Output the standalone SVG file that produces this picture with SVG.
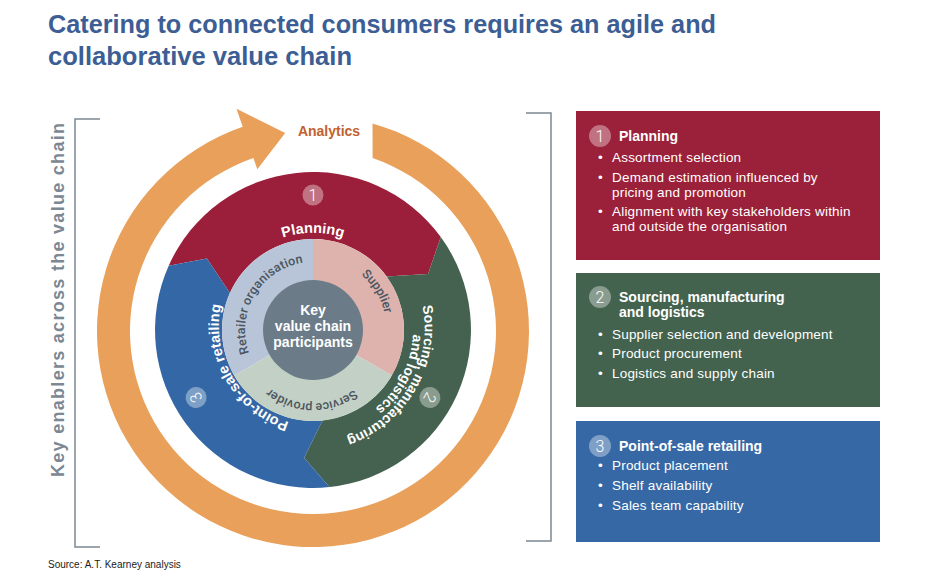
<svg xmlns="http://www.w3.org/2000/svg" width="931" height="576" viewBox="0 0 931 576">
  <style>
    text { font-family: "Liberation Sans", Arial, sans-serif; }
    .title { font-size: 25px; font-weight: 700; fill: #3c5e95; }
    .seg-label { font-size: 14.5px; font-weight: 700; fill: #ffffff; }
    .seg-label.small { font-size: 14px; }
    .part-label { font-family: Roboto, "Liberation Sans", sans-serif; font-size: 12.5px; font-weight: 500; fill: #4a5560; }
    .digit { font-family: Roboto, "Liberation Sans", sans-serif; font-size: 16px; font-weight: 300; fill: #ffffff; }
    .badge { fill: #ffffff; fill-opacity: 0.37; }
    .box-head { font-size: 14px; font-weight: 700; fill: #ffffff; }
    .box-text { font-size: 13.5px; fill: #ffffff; letter-spacing: 0.2px; }
    .bracket { fill: none; stroke: #7d8891; stroke-width: 1.5; }
  </style>
  <defs>
    <!-- clockwise baselines for the curved labels (centre 313,330) -->
    <path id="arc-planning" d="M221.8 296.8 A97 97 0 0 1 404.2 296.8"/>
    <path id="arc-sourcing1" d="M379 235.8 A116 116 0 0 1 264 435.1"/>
    <path id="arc-sourcing2" d="M366 245.2 A100 100 0 0 1 275.5 422.7"/>
    <path id="arc-pos" d="M355.3 420.6 A101 101 0 0 1 255.6 248.1"/>
    <path id="arc-retailer" d="M273.0 385.0 A68 68 0 0 1 342.8 268.9"/>
    <path id="arc-supplier" d="M283.2 268.9 A66 66 0 0 1 353.0 385.0"/>
    <path id="arc-service" d="M380.6 337.1 A64 64 0 0 1 245.2 334.7"/>
  </defs>

  <rect width="931" height="576" fill="#ffffff"/>

  <!-- heading -->
  <g id="title">
    <text class="title" x="48" y="33" textLength="668" lengthAdjust="spacingAndGlyphs">Catering to connected consumers requires an agile and</text>
    <text class="title" x="48" y="65" textLength="304" lengthAdjust="spacingAndGlyphs">collaborative value chain</text>
  </g>

  <!-- outer analytics loop with arrowhead -->
  <g id="analytics">
    <path d="M372.5 123.4 A216 216 0 1 1 242.7 126.8 L236.5 108.8 L285.2 132.9 L257.3 169.3 L253.4 158.0 A183 183 0 1 0 372.6 158.0 Z" fill="#e9a05a"/>
    <text x="329" y="136" text-anchor="middle" font-size="14" font-weight="700" fill="#c2612e">Analytics</text>
  </g>

  <!-- value chain stages -->
  <g id="stage-planning">
    <path d="M168.7 265.7 A158 158 0 0 1 440.8 237.1 L428.0 273.9 L386.6 276.5 A91 91 0 0 0 229.9 293.0 L206.9 258.4 Z" fill="#9b1f3a"/>
    <circle class="badge" cx="313" cy="195" r="10.5"/>
    <text class="digit" x="313" y="200.5" text-anchor="middle">1</text>
    <text class="seg-label"><textPath href="#arc-planning" startOffset="50%" text-anchor="middle">Planning</textPath></text>
  </g>
  <g id="stage-sourcing">
    <path d="M440.8 237.1 A158 158 0 0 1 329.5 487.1 L304.1 457.7 L322.5 420.5 A91 91 0 0 0 386.6 276.5 L428.0 273.9 Z" fill="#44624f"/>
    <g transform="translate(429.9 397.5) rotate(120)">
      <circle class="badge" r="10.5"/>
      <text class="digit" y="5.5" text-anchor="middle">2</text>
    </g>
    <text class="seg-label small"><textPath href="#arc-sourcing1" startOffset="50%" text-anchor="middle">Sourcing, manufacturing</textPath></text>
    <text class="seg-label small"><textPath href="#arc-sourcing2" startOffset="50%" text-anchor="middle">and logistics</textPath></text>
  </g>
  <g id="stage-pos">
    <path d="M329.5 487.1 A158 158 0 0 1 168.7 265.7 L206.9 258.4 L229.9 293.0 A91 91 0 0 0 322.5 420.5 L304.1 457.7 Z" fill="#3467a5"/>
    <g transform="translate(196.1 397.5) rotate(240)">
      <circle class="badge" r="10.5"/>
      <text class="digit" y="5.5" text-anchor="middle">3</text>
    </g>
    <text class="seg-label"><textPath href="#arc-pos" startOffset="50%" text-anchor="middle">Point-of-sale retailing</textPath></text>
  </g>

  <!-- participants ring -->
  <g id="participants">
    <path d="M313 330 L313 239 A91 91 0 0 1 391.8 375.5 Z" fill="#deb3ae"/>
    <path d="M313 330 L391.8 375.5 A91 91 0 0 1 234.2 375.5 Z" fill="#c3d0c5"/>
    <path d="M313 330 L234.2 375.5 A91 91 0 0 1 313 239 Z" fill="#b8c5d8"/>
    <text class="part-label" letter-spacing="0.2"><textPath href="#arc-retailer" startOffset="50%" text-anchor="middle">Retailer organisation</textPath></text>
    <text class="part-label"><textPath href="#arc-supplier" startOffset="50%" text-anchor="middle">Supplier</textPath></text>
    <text class="part-label"><textPath href="#arc-service" startOffset="50%" text-anchor="middle">Service provider</textPath></text>
  </g>

  <g id="centre">
    <circle cx="313" cy="330" r="50" fill="#6b7c88"/>
    <text x="313" y="315" text-anchor="middle" font-size="14" font-weight="700" fill="#ffffff">Key</text>
    <text x="313" y="331" text-anchor="middle" font-size="14" font-weight="700" fill="#ffffff">value chain</text>
    <text x="313" y="347" text-anchor="middle" font-size="14" font-weight="700" fill="#ffffff">participants</text>
  </g>

  <!-- brackets -->
  <g id="brackets">
    <path class="bracket" d="M100 119 H75 V547 H100"/>
    <path class="bracket" d="M526 113 H551 V541 H526"/>
    <text transform="translate(64 300) rotate(-90)" text-anchor="middle" font-size="18" font-weight="700" fill="#7b8893" textLength="354" lengthAdjust="spacing">Key enablers across the value chain</text>
  </g>

  <!-- stage detail panels -->
  <g id="box-planning">
    <rect x="576" y="111" width="304" height="149" fill="#9b2039"/>
    <circle class="badge" cx="600" cy="136" r="11"/>
    <text class="digit" x="600" y="142" text-anchor="middle" font-size="17">1</text>
    <text class="box-head" x="619" y="141">Planning</text>
    <text class="box-text" x="598" y="162">•</text>
    <text class="box-text" x="612" y="162">Assortment selection</text>
    <text class="box-text" x="598" y="182">•</text>
    <text class="box-text" x="612" y="182">Demand estimation influenced by</text>
    <text class="box-text" x="612" y="197">pricing and promotion</text>
    <text class="box-text" x="598" y="216">•</text>
    <text class="box-text" x="612" y="216">Alignment with key stakeholders within</text>
    <text class="box-text" x="612" y="231">and outside the organisation</text>
  </g>
  <g id="box-sourcing">
    <rect x="576" y="273" width="304" height="134" fill="#44634f"/>
    <circle class="badge" cx="600" cy="297" r="11"/>
    <text class="digit" x="600" y="303" text-anchor="middle" font-size="17">2</text>
    <text class="box-head" x="619" y="302">Sourcing, manufacturing</text>
    <text class="box-head" x="619" y="317">and logistics</text>
    <text class="box-text" x="598" y="339">•</text>
    <text class="box-text" x="612" y="339">Supplier selection and development</text>
    <text class="box-text" x="598" y="358">•</text>
    <text class="box-text" x="612" y="358">Product procurement</text>
    <text class="box-text" x="598" y="378">•</text>
    <text class="box-text" x="612" y="378">Logistics and supply chain</text>
  </g>
  <g id="box-pos">
    <rect x="576" y="421" width="304" height="121" fill="#3668a5"/>
    <circle class="badge" cx="600" cy="446" r="11"/>
    <text class="digit" x="600" y="452" text-anchor="middle" font-size="17">3</text>
    <text class="box-head" x="619" y="451">Point-of-sale retailing</text>
    <text class="box-text" x="598" y="470">•</text>
    <text class="box-text" x="612" y="470">Product placement</text>
    <text class="box-text" x="598" y="490">•</text>
    <text class="box-text" x="612" y="490">Shelf availability</text>
    <text class="box-text" x="598" y="510">•</text>
    <text class="box-text" x="612" y="510">Sales team capability</text>
  </g>

  <g id="connectors"></g>

  <text x="48" y="568" font-size="10" fill="#222222">Source: A.T. Kearney analysis</text>
</svg>
